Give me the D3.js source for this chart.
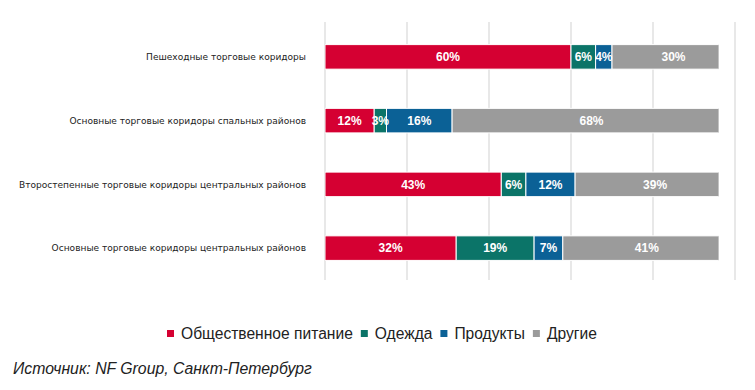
<!DOCTYPE html>
<html><head><meta charset="utf-8">
<script src="https://cdn.jsdelivr.net/npm/d3@7/dist/d3.min.js"></script>
<style>body{margin:0;background:#fff}svg{display:block}</style>
</head><body><svg id="c" width="755" height="390"></svg>
<script>
const categories = [
  "Пешеходные торговые коридоры",
  "Основные торговые коридоры спальных районов",
  "Второстепенные торговые коридоры центральных районов",
  "Основные торговые коридоры центральных районов"
];
const seriesNames = ["Общественное питание", "Одежда", "Продукты", "Другие"];
const food    = [60, 12, 43, 32];
const clothes = [6, 3, 6, 19];
const grocery = [4, 16, 12, 7];
const other   = [30, 68, 39, 41];
const colors = ["#d50032", "#0b7468", "#0b6196", "#9b9b9b"];
const gridTicks = [0, 20, 40, 60, 80, 100];
const visibleMax = 96;
const sourceText = "Источник: NF Group, Санкт-Петербург";

const svg = d3.select("#c");
const x = d3.scaleLinear().domain([0, 100]).range([325, 735]);
const y = d3.scaleBand().domain(categories).range([25, 280]).paddingInner(0.615).paddingOuter(0.3075);

svg.append("g").selectAll("line").data(gridTicks).join("line")
  .attr("x1", d => x(d)).attr("x2", d => x(d))
  .attr("y1", 22).attr("y2", 280)
  .attr("stroke", "#d9d9d9").attr("stroke-width", 1.2);

const seriesVals = [food, clothes, grocery, other];
const rows = categories.map((c, i) => {
  const o = {cat: c};
  seriesNames.forEach((s, j) => o[s] = seriesVals[j][i]);
  return o;
});
const stack = d3.stack().keys(seriesNames)(rows);

svg.append("defs").append("clipPath").attr("id", "clip")
  .append("rect").attr("x", x(0)).attr("y", 0)
  .attr("width", x(visibleMax) - x(0)).attr("height", 300);

const g = svg.append("g").attr("clip-path", "url(#clip)");
stack.forEach((layer, j) => {
  g.append("g").selectAll("rect").data(layer).join("rect")
    .attr("x", d => x(d[0]))
    .attr("y", d => y(d.data.cat))
    .attr("width", d => x(d[1]) - x(d[0]))
    .attr("height", y.bandwidth())
    .attr("fill", colors[j])
    .attr("stroke", "#fff").attr("stroke-width", 1);
});
stack.forEach((layer, j) => {
  svg.append("g").selectAll("text").data(layer).join("text")
    .attr("x", d => (x(d[0]) + x(d[1])) / 2)
    .attr("y", d => y(d.data.cat) + y.bandwidth() / 2)
    .attr("dy", "0.36em")
    .attr("text-anchor", "middle")
    .attr("fill", "#fff")
    .attr("font-family", "Liberation Sans, Arial, sans-serif")
    .attr("font-weight", "bold")
    .attr("font-size", 12)
    .text(d => (d[1] - d[0]) + "%");
});

svg.append("g").selectAll("text").data(categories).join("text")
  .attr("x", 306)
  .attr("y", d => y(d) + y.bandwidth() / 2)
  .attr("dy", "0.35em")
  .attr("text-anchor", "end")
  .attr("font-family", "DejaVu Sans, sans-serif")
  .attr("font-size", 9.05)
  .attr("fill", "#222")
  .text(d => d);

const lg = svg.append("g");
let lx = 167;
seriesNames.forEach((s, j) => {
  lg.append("rect").attr("x", lx).attr("y", 330).attr("width", 7).attr("height", 7).attr("fill", colors[j]);
  const t = lg.append("text").attr("x", lx + 14).attr("y", 339)
    .attr("font-family", "Liberation Sans, Arial, sans-serif").attr("font-size", 15.6)
    .attr("fill", "#222").text(s);
  lx += 14 + t.node().getComputedTextLength() + 8;
});

svg.append("text").attr("x", 13).attr("y", 374)
  .attr("font-family", "Liberation Sans, Arial, sans-serif").attr("font-size", 15.8)
  .attr("font-style", "italic").attr("fill", "#222").text(sourceText);
</script></body></html>
